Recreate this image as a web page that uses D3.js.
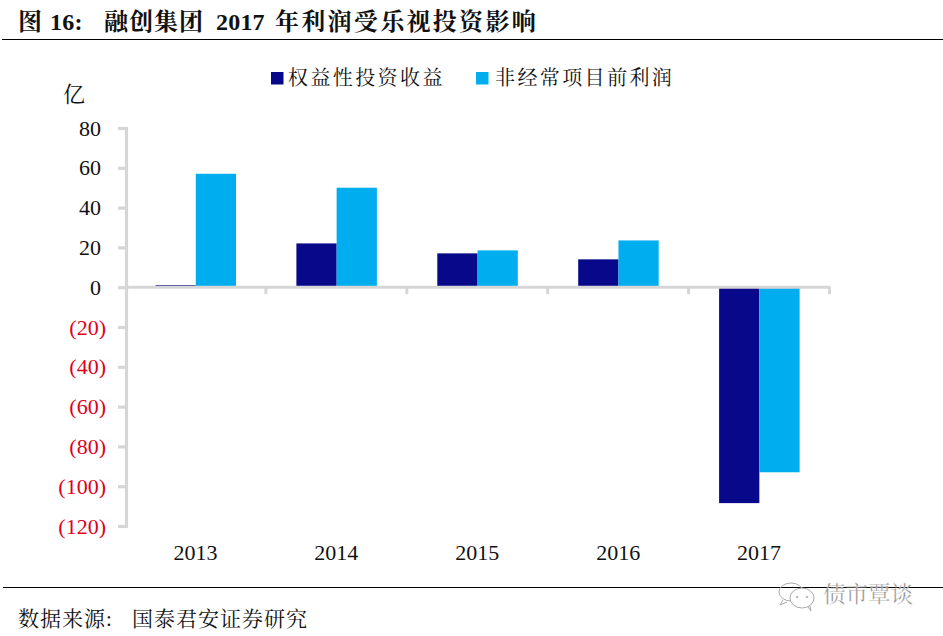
<!DOCTYPE html>
<html><head><meta charset="utf-8">
<script src="https://cdn.jsdelivr.net/npm/d3@7/dist/d3.min.js"></script>
<style>
html,body{margin:0;padding:0;background:#fff;overflow:hidden}
text{font-family:"Liberation Serif","Noto Serif CJK SC","Noto Sans CJK SC",serif}
</style></head><body><svg id="c" width="943" height="636"></svg>
<script>
const years=["2013","2014","2015","2016","2017"];
const seriesNames=["权益性投资收益","非经常项目前利润"];
const equityIncome=[1,22,17,14,-108.5];
const preItemProfit=[57,50,18.5,23.5,-93];
const seriesColors=["#08088A","#00AEEF"];
const yTicks=[80,60,40,20,0,-20,-40,-60,-80,-100,-120];
const titleParts=["图","16:","融创集团","2017","年利润受乐视投资影响"];
const sourceParts=["数据来源:","国泰君安证券研究"];
const unitText="亿";
const watermark="债市覃谈";

const svg=d3.select("#c");
const y=d3.scaleLinear().domain([-120,80]).range([526,128]);
const x=d3.scaleBand().domain(years).range([125,829.5]);
const inner=d3.scaleBand().domain([0,1]).range([30.5,111]);

// title + rules
const title=svg.append("text").attr("y",30).attr("font-size",24).attr("font-weight",700).attr("fill","#111");
const titleX=[18,50,104,216,275];
titleParts.forEach((t,i)=>title.append("tspan").attr("x",titleX[i]).attr("letter-spacing",i==4?2.3:(i==2?1:0.2)).text(t));
svg.append("line").attr("x1",2).attr("x2",943).attr("y1",39.5).attr("y2",39.5).attr("stroke","#000");
svg.append("line").attr("x1",3).attr("x2",943).attr("y1",587.5).attr("y2",587.5).attr("stroke","#000");
const src=svg.append("text").attr("y",626).attr("font-size",21).attr("letter-spacing",1).attr("fill","#111");
const srcX=[18,132];
sourceParts.forEach((t,i)=>src.append("tspan").attr("x",srcX[i]).text(t));

// legend
const legendX=[271,476];
const legendTextX=[288,495];
seriesNames.forEach((n,i)=>{
  svg.append("rect").attr("x",legendX[i]).attr("y",72).attr("width",12.5).attr("height",12.5).attr("fill",seriesColors[i]);
  svg.append("text").attr("x",legendTextX[i]).attr("y",85).attr("font-size",20).attr("letter-spacing",2.4).attr("fill","#111").text(n);
});
svg.append("text").attr("x",63).attr("y",102).attr("font-size",22).attr("fill","#111").text(unitText);

// bars
[equityIncome,preItemProfit].forEach((vals,s)=>{
  svg.append("g").selectAll("rect").data(vals).join("rect")
    .attr("x",(d,i)=>x(years[i])+inner(s))
    .attr("width",inner.bandwidth())
    .attr("y",d=>y(Math.max(0,d)))
    .attr("height",d=>Math.abs(y(d)-y(0)))
    .attr("fill",seriesColors[s]);
});

// y axis
const fmt=d=>d<0?`(${-d})`:`${d}`;
const gy=svg.append("g").attr("transform","translate(126,0)")
  .call(d3.axisLeft(y).tickValues(yTicks).tickFormat(fmt).tickSize(8).tickSizeOuter(8).tickPadding(12));
gy.selectAll("path,line").attr("stroke","#D6D6D6").attr("stroke-width",3.2);
gy.selectAll("text").attr("font-size",22).attr("fill",d=>d<0?"#E0001B":"#111")
  .attr("dx",d=>d<0?0:-5)
  .style("font-family",'"Liberation Serif",serif');

// x axis at zero, ticks at band edges
const gx=svg.append("g").attr("transform",`translate(0,${y(0)})`);
gx.append("line").attr("x1",x.range()[0]).attr("x2",x.range()[1]+1).attr("stroke","#D6D6D6").attr("stroke-width",3);
gx.selectAll("line.t").data(years).join("line").attr("class","t")
  .attr("x1",d=>x(d)+x.bandwidth()).attr("x2",d=>x(d)+x.bandwidth())
  .attr("y1",0).attr("y2",7).attr("stroke","#D6D6D6").attr("stroke-width",3);
svg.append("g").selectAll("text").data(years).join("text")
  .attr("x",d=>x(d)+x.bandwidth()/2).attr("y",560).attr("text-anchor","middle")
  .attr("font-size",22).attr("fill","#111").text(d=>d);

// watermark
const wm=svg.append("g").attr("fill","none").attr("stroke","#aaa").attr("stroke-width",1);
wm.append("ellipse").attr("cx",791).attr("cy",592).attr("rx",12).attr("ry",9);
wm.append("ellipse").attr("cx",802).attr("cy",598).attr("rx",12).attr("ry",10).attr("fill","#fff");
wm.append("path").attr("d","M783 600l-3 5 7-3M808 607l3 4-1-5");
[[797,597],[807,597]].forEach(p=>wm.append("circle").attr("cx",p[0]).attr("cy",p[1]).attr("r",0.8));
svg.append("text").attr("x",823).attr("y",602).attr("font-size",22.5).attr("fill","#888")
  .attr("stroke","#fff").attr("stroke-width",0.3).text(watermark);
</script></body></html>
